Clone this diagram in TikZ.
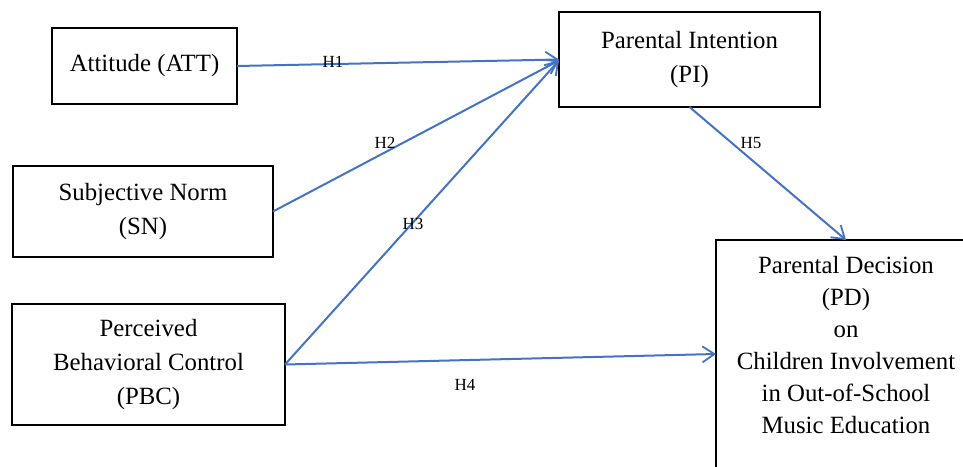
\documentclass[tikz,border=0pt]{standalone}
\usepackage{fontspec}
\setmainfont{Liberation Serif}
\usetikzlibrary{arrows.meta,calc}
\definecolor{arrblue}{RGB}{68,114,196}
\tikzset{
  box/.style={draw=black, line width=1pt, inner sep=0pt, outer sep=0pt, align=center,
    font=\fontsize{12.4}{17}\selectfont},
  link/.style={draw=arrblue, line width=1pt, -{Straight Barb[length=6pt,width=8pt,line width=0.9pt]}},
  hlab/.style={inner sep=0pt, font=\fontsize{8.5}{10}\selectfont}
}
\begin{document}
\begin{tikzpicture}[x=0.5pt,y=-0.5pt]
\useasboundingbox (0,0) rectangle (963,466);
\clip (0,0) rectangle (963,466);
\node[box, minimum width=92.5pt, minimum height=38pt] (ATT) at (144.5,66) {Attitude (ATT)};
\node[box, minimum width=130pt, minimum height=45.5pt] (SN) at (143,211.5) {Subjective Norm\\(SN)};
\node[box, minimum width=136.5pt, minimum height=60.5pt] (PBC) at (148.5,364.5) {Perceived\\Behavioral Control\\(PBC)};
\node[box, minimum width=130.5pt, minimum height=47.5pt] (PI) at (689.5,59.5) {Parental Intention\\(PI)};
\node[box, font=\fontsize{12.4}{16}\selectfont, minimum width=130pt, anchor=north, inner ysep=8pt] (PD) at (846,240)
  {Parental Decision\\(PD)\\on\\Children Involvement\\in Out-of-School\\Music Education\rule[-80pt]{0pt}{0pt}};
\draw[link] (ATT.east) -- (PI.west);
\draw[link] (SN.east) -- ([yshift=-0.5pt]PI.west);
\draw[link] (PBC.east) -- ([yshift=-0.5pt]PI.west);
\draw[link] (PBC.east) -- ([yshift=-57pt]PD.north west);
\draw[link] (PI.south) -- (PD.north);
\node[hlab] (h1) at (333,62) {H1};
\node[hlab] (h2) at (385,143) {H2};
\node[hlab] (h3) at (413,224) {H3};
\node[hlab] (h4) at (465,385) {H4};
\node[hlab] (h5) at (751,143) {H5};
\end{tikzpicture}
\end{document}
